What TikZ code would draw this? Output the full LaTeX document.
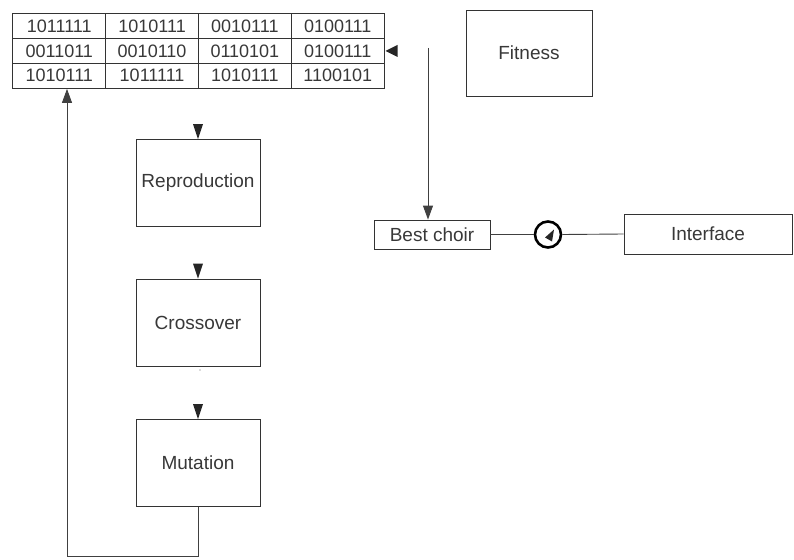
\documentclass[tikz,border=0pt]{standalone}
\usepackage{fontspec}
\setmainfont{Liberation Sans}
\usetikzlibrary{arrows.meta,calc,matrix}
\begin{document}
\begin{tikzpicture}[x=1pt,y=-1pt,
  line width=0.9pt, draw=black!75,
  every node/.style={text=black!78, font=\fontsize{19}{22}\selectfont},
  box/.style={draw=black!80, line width=0.9pt, minimum width=124pt, minimum height=87pt, inner sep=0pt},
  cell/.style={draw=black!80, line width=0.9pt, minimum width=92.8pt, minimum height=24.7pt, inner sep=0pt,
    font=\fontsize{18}{20}\selectfont},
  tip/.style={fill=black!85, draw=none},
  arr/.style={-{Triangle[length=14pt,width=10pt]}, draw=black!75}]
\useasboundingbox (0,0) rectangle (794,559);

% population table
\matrix (pop) [matrix of nodes, anchor=north west, inner sep=0pt,
  nodes={cell}, column sep=-0.9pt, row sep=-0.9pt] at (12,13) {
  1011111 & 1010111 & 0010111 & 0100111 \\
  0011011 & 0010110 & 0110101 & 0100111 \\
  1010111 & 1011111 & 1010111 & 1100101 \\
};

% operator boxes
\node[box] (rep) at (198,183) {Reproduction};
\node[box] (cro) at (198,322.5) {Crossover};
\node[box] (mut) at (198,463) {Mutation};
\node[box, minimum width=126pt, minimum height=86pt] (fit) at (529,53) {Fitness};
\node[draw=black!80, line width=0.9pt, minimum width=116pt, minimum height=29pt, inner sep=0pt] (bc) at (432,234.5) {Best choir};
\node[draw=black!80, line width=0.9pt, minimum width=168pt, minimum height=40pt, inner sep=0pt] (itf) at (708,234) {Interface};
\node[draw=black, circle, line width=2.6pt, minimum size=26pt, inner sep=0pt] (sel) at (548,234.5) {};

% free arrowheads above the operators and beside the table
\foreach \b in {rep,cro,mut}
  \fill[tip] (\b.north) -- ++(-5,-15) -- ++(10,0) -- cycle;
\coordinate (tabin) at ($(pop.east)+(0.5,0)$);
\fill[tip] (tabin) -- ++(12,-6) -- ++(0,12) -- cycle;
\fill[tip] ($(sel.center)+(-3,3)$) -- ++(9,-8) -- ++(-2,12) -- cycle;

% fitness to best choice
\coordinate (ftop) at (428,48);
\draw[arr] (ftop) -- (ftop |- bc.north);

% best choice to interface through the selector
\draw (bc.east) -- (sel.west);
\draw (sel.east) -- (itf.west);

% loop back from mutation to the population
\coordinate (lowleft) at (67,556);
\draw[arr] (mut.south) |- (lowleft) -- (lowleft |- pop.south);

% small dot under crossover
\fill[black!60] (200,370) circle (0.6);
\end{tikzpicture}
\end{document}
